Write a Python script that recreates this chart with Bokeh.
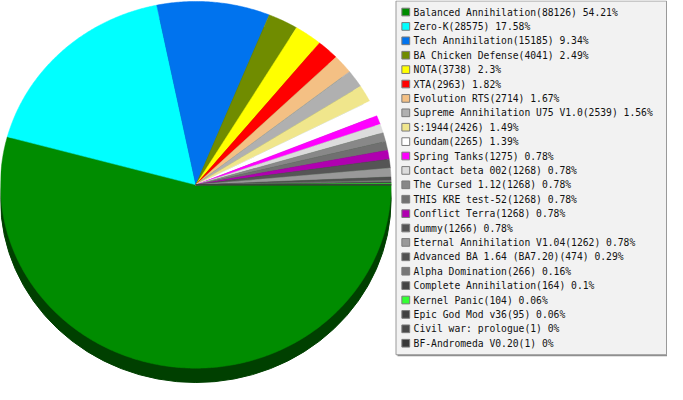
import numpy as np
from bokeh.plotting import figure
from bokeh.models import Range1d, ColumnDataSource
from bokeh.core.properties import value
from bokeh.embed import file_html
from bokeh.resources import INLINE

# ---- data ----
names = [
    "Balanced Annihilation", "Zero-K", "Tech Annihilation", "BA Chicken Defense",
    "NOTA", "XTA", "Evolution RTS", "Supreme Annihilation U75 V1.0", "S:1944",
    "Gundam", "Spring Tanks", "Contact beta 002", "The Cursed 1.12",
    "THIS KRE test-52", "Conflict Terra", "dummy", "Eternal Annihilation V1.04",
    "Advanced BA 1.64 (BA7.20)", "Alpha Domination", "Complete Annihilation",
    "Kernel Panic", "Epic God Mod v36", "Civil war: prologue", "BF-Andromeda V0.20",
]
counts = [88126, 28575, 15185, 4041, 3738, 2963, 2714, 2539, 2426, 2265, 1275,
          1268, 1268, 1268, 1268, 1266, 1262, 474, 266, 164, 104, 95, 1, 1]
colors = ["#008c00", "#00ffff", "#0073ee", "#708c00", "#ffff00", "#ff0000",
          "#f4c084", "#b0b0b0", "#f0e68c", "#ffffff", "#ff00ff", "#dcdcdc",
          "#888888", "#707070", "#b000b0", "#555555", "#999999", "#505050",
          "#777777", "#444444", "#33ff33", "#404040", "#4a4a4a", "#383838"]

total = float(sum(counts))
fracs = [c / total for c in counts]
labels = [f"{n}({c}) {round(f * 100, 2):g}%" for n, c, f in zip(names, counts, fracs)]

# ---- layout (reference pixel space, y down) ----
W, H = 683, 400
cx, cy, rx, ry = 200, 192, 200, 191
shadow_dy = 15

p = figure(width=667, height=384, x_range=Range1d(0, W), y_range=Range1d(H, 0),
           output_backend="svg", toolbar_location=None, min_border=0,
           background_fill_color="white", border_fill_color="white")
p.axis.visible = False
p.grid.visible = False
p.outline_line_color = None

# shadow (3D rim)
p.ellipse(x=[cx], y=[cy + shadow_dy], width=[2 * rx], height=[2 * ry],
          fill_color="#004000", line_color="#004000")

# slices
xs, ys = [], []
cum = 0.0
for f in fracs:
    a0, a1 = 2 * np.pi * cum, 2 * np.pi * (cum + f)
    n = max(3, int(f * 720) + 2)
    th = np.linspace(a0, a1, n)
    xs.append([cx] + list(cx + rx * np.cos(th)))
    ys.append([cy] + list(cy + ry * np.sin(th)))
    cum += f
p.patches(xs=xs, ys=ys, fill_color=colors, line_color=colors, line_width=0.5)

# legend box
lx0, lx1, ly0, ly1 = 405, 682, 0.5, 369
p.quad(left=[lx0 + 1.5], right=[lx1 + 1.5], top=[ly0 + 1.5], bottom=[ly1 + 1.5],
       fill_color="#8c8c8c", line_color=None)
p.quad(left=[lx0], right=[lx1], top=[ly0], bottom=[ly1],
       fill_color="#f2f2f2", line_color="#999999", line_width=1)

rows = [12 + 15 * i for i in range(len(names))]
src = ColumnDataSource(dict(
    y=rows, top=[r - 4 for r in rows], bottom=[r + 4 for r in rows],
    color=colors, label=labels))
p.quad(left=411, right=419, top="top", bottom="bottom", fill_color="color",
       line_color="#7a7a7a", line_width=1, source=src)
p.text(x=423, y="y", text="label", source=src, text_baseline="middle",
       text_font=value("DejaVu Sans Mono"), text_font_size="9.7px",
       text_color="#111111")

open("out.html", "w").write(file_html(p, INLINE))
